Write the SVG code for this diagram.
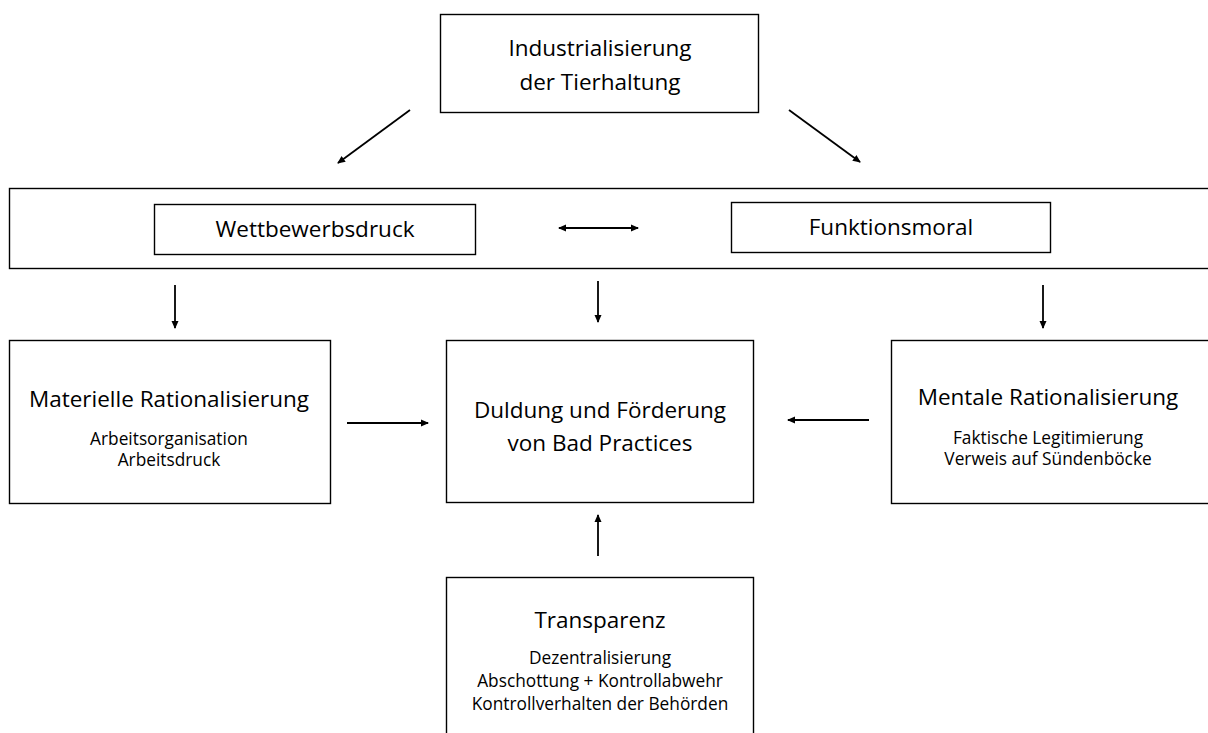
<svg xmlns="http://www.w3.org/2000/svg" width="1208" height="733" viewBox="0 0 1208 733">
<defs>
<marker id="ah" markerWidth="8" markerHeight="8" refX="7" refY="4" orient="auto-start-reverse" markerUnits="userSpaceOnUse">
<path d="M0,0.5 L8,4 L0,7.5 Z" fill="#000"/>
</marker>
<style>
.box{fill:#fff;stroke:#000;stroke-width:1.4}
.t{font-family:"Open Sans","Liberation Sans",sans-serif;fill:#000;text-anchor:middle}
.big{font-size:22.5px}
.sm{font-size:17.3px}
.c{stroke:#000;stroke-width:1.8;fill:none;marker-end:url(#ah)}
</style>
</defs>
<rect width="1208" height="733" fill="#fff"/>
<g id="industrialisierung">
<rect class="box" x="440.5" y="14.5" width="318" height="98"/>
<text class="t big" x="600" y="56">Industrialisierung</text>
<text class="t big" x="600" y="90">der Tierhaltung</text>
</g>
<g id="druck-rahmen">
<rect class="box" x="9.5" y="188.5" width="1210" height="80"/>
</g>
<g id="wettbewerbsdruck">
<rect class="box" x="154.5" y="204.5" width="321" height="50"/>
<text class="t big" x="315" y="237">Wettbewerbsdruck</text>
</g>
<g id="funktionsmoral">
<rect class="box" x="731.5" y="202.5" width="319" height="50"/>
<text class="t big" x="891" y="235">Funktionsmoral</text>
</g>
<g id="materielle">
<rect class="box" x="9.5" y="340.5" width="321" height="163"/>
<text class="t big" x="169" y="407">Materielle Rationalisierung</text>
<text class="t sm" x="169" y="445">Arbeitsorganisation</text>
<text class="t sm" x="169" y="466">Arbeitsdruck</text>
</g>
<g id="duldung">
<rect class="box" x="446.5" y="340.5" width="307" height="162"/>
<text class="t big" x="600" y="418">Duldung und Förderung</text>
<text class="t big" x="600" y="451">von Bad Practices</text>
</g>
<g id="mentale">
<rect class="box" x="891.5" y="340.5" width="320" height="163"/>
<text class="t big" x="1048" y="405">Mentale Rationalisierung</text>
<text class="t sm" x="1048" y="444">Faktische Legitimierung</text>
<text class="t sm" x="1048" y="465">Verweis auf Sündenböcke</text>
</g>
<g id="transparenz">
<rect class="box" x="446.5" y="577.5" width="307" height="170"/>
<text class="t big" x="600" y="628">Transparenz</text>
<text class="t sm" x="600" y="664">Dezentralisierung</text>
<text class="t sm" x="600" y="687">Abschottung + Kontrollabwehr</text>
<text class="t sm" x="600" y="710">Kontrollverhalten der Behörden</text>
</g>
<g id="connectors">
<line class="c" x1="410" y1="110" x2="338" y2="163"/>
<line class="c" x1="789" y1="110" x2="860" y2="162"/>
<line class="c" x1="559" y1="228" x2="638" y2="228" style="marker-start:url(#ah)"/>
<line class="c" x1="175" y1="285" x2="175" y2="328"/>
<line class="c" x1="598" y1="281" x2="598" y2="322"/>
<line class="c" x1="1043" y1="285" x2="1043" y2="328"/>
<line class="c" x1="347" y1="423" x2="428" y2="423"/>
<line class="c" x1="869" y1="420" x2="788" y2="420"/>
<line class="c" x1="598" y1="556" x2="598" y2="515"/>
</g>
</svg>
